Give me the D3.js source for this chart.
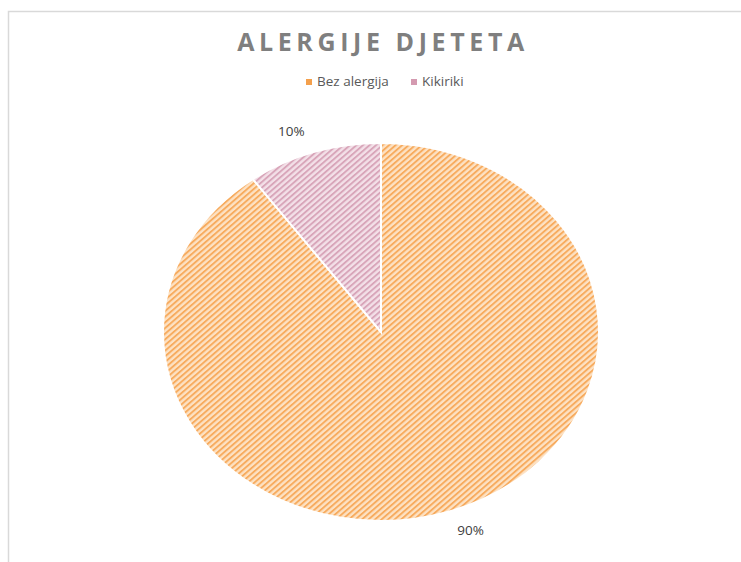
<!DOCTYPE html>
<html>
<head>
<meta charset="utf-8">
<script src="https://cdn.jsdelivr.net/npm/d3@7"></script>
<style>
  html, body { margin: 0; padding: 0; background: #fff; overflow: hidden; }
  svg { display: block; }
</style>
</head>
<body>
<svg></svg>
<script>
const categories = ["Bez alergija", "Kikiriki"];
const values = [90, 10];
const labels = ["90%", "10%"];

function draw() {
  const width = 741;
  const height = 562;
  const cx = 381, cy = 332;
  const rx = 218, ry = 189;

  const svg = d3.select("svg")
    .attr("width", width)
    .attr("height", height)
    .attr("viewBox", [0, 0, width, height]);

  // okvir grafikona (desni i donji rub su izvan slike)
  svg.append("rect")
    .attr("x", 8.5).attr("y", 11.5)
    .attr("width", 760).attr("height", 580)
    .attr("fill", "none")
    .attr("stroke", "#d9d9d9")
    .attr("stroke-width", 1.5);

  // uzorci s kosim crtama
  const fills = [
    { id: "patOrange", bg: "#fde2c4", fg: "#f7ab5e" },
    { id: "patPink", bg: "#f3e0e8", fg: "#d8a5b9" }
  ];
  const defs = svg.append("defs");
  fills.forEach(f => {
    const p = defs.append("pattern")
      .attr("id", f.id)
      .attr("patternUnits", "userSpaceOnUse")
      .attr("width", 4).attr("height", 4)
      .attr("patternTransform", "rotate(45)");
    p.append("rect").attr("width", 4).attr("height", 4).attr("fill", f.bg);
    p.append("rect").attr("width", 1.8).attr("height", 4).attr("fill", f.fg);
  });

  const color = d3.scaleOrdinal()
    .domain(categories)
    .range(fills.map(f => `url(#${f.id})`));
  const legendColor = d3.scaleOrdinal()
    .domain(categories)
    .range(["#f4a04c", "#d49ab0"]);

  // naslov
  svg.append("text")
    .attr("x", cx + 2).attr("y", 51)
    .attr("text-anchor", "middle")
    .attr("font-family", "'Open Sans', 'Liberation Sans', sans-serif")
    .attr("font-weight", "bold")
    .attr("font-size", 25)
    .attr("letter-spacing", 4.6)
    .attr("fill", "#7f7f7f")
    .text("ALERGIJE DJETETA");

  // legenda
  const legendX = [306, 411];
  const lg = svg.append("g")
    .selectAll("g")
    .data(categories)
    .join("g")
    .attr("transform", (d, i) => `translate(${legendX[i]},82)`);
  lg.append("rect")
    .attr("x", 0).attr("y", -3)
    .attr("width", 6).attr("height", 6)
    .attr("fill", d => legendColor(d));
  lg.append("text")
    .attr("x", 11).attr("y", 0)
    .attr("dominant-baseline", "middle")
    .attr("font-family", "'Open Sans', 'Liberation Sans', sans-serif")
    .attr("font-size", 13.5)
    .attr("fill", "#595959")
    .text(d => d);

  // pita (elipsa: krug skaliran po x)
  const pie = d3.pie().sort(null).value(d => d.value);
  const data = pie(categories.map((c, i) => ({ name: c, value: values[i], label: labels[i] })));
  const arc = d3.arc().innerRadius(0).outerRadius(ry);

  svg.append("g")
    .attr("transform", `translate(${cx},${cy}) scale(${rx / ry},1)`)
    .selectAll("path")
    .data(data)
    .join("path")
    .attr("d", arc)
    .attr("fill", d => color(d.data.name))
    .attr("stroke", "#fff")
    .attr("stroke-width", 2)
    .attr("vector-effect", "non-scaling-stroke");

  // oznake postotaka
  svg.append("g")
    .selectAll("text")
    .data(data)
    .join("text")
    .each(function (d) {
      const a = (d.startAngle + d.endAngle) / 2;
      const s = Math.sin(a), c = Math.cos(a);
      const px = cx + rx * s, py = cy - ry * c;
      d3.select(this)
        .attr("x", px + 9 * Math.sign(s))
        .attr("y", py - 20 * Math.sign(c))
        .attr("text-anchor", s >= 0 ? "start" : "end");
    })
    .attr("dominant-baseline", "middle")
    .attr("font-family", "'Open Sans', 'Liberation Sans', sans-serif")
    .attr("font-size", 13.5)
    .attr("fill", "#404040")
    .text(d => d.data.label);
}
draw();
</script>
</body>
</html>
